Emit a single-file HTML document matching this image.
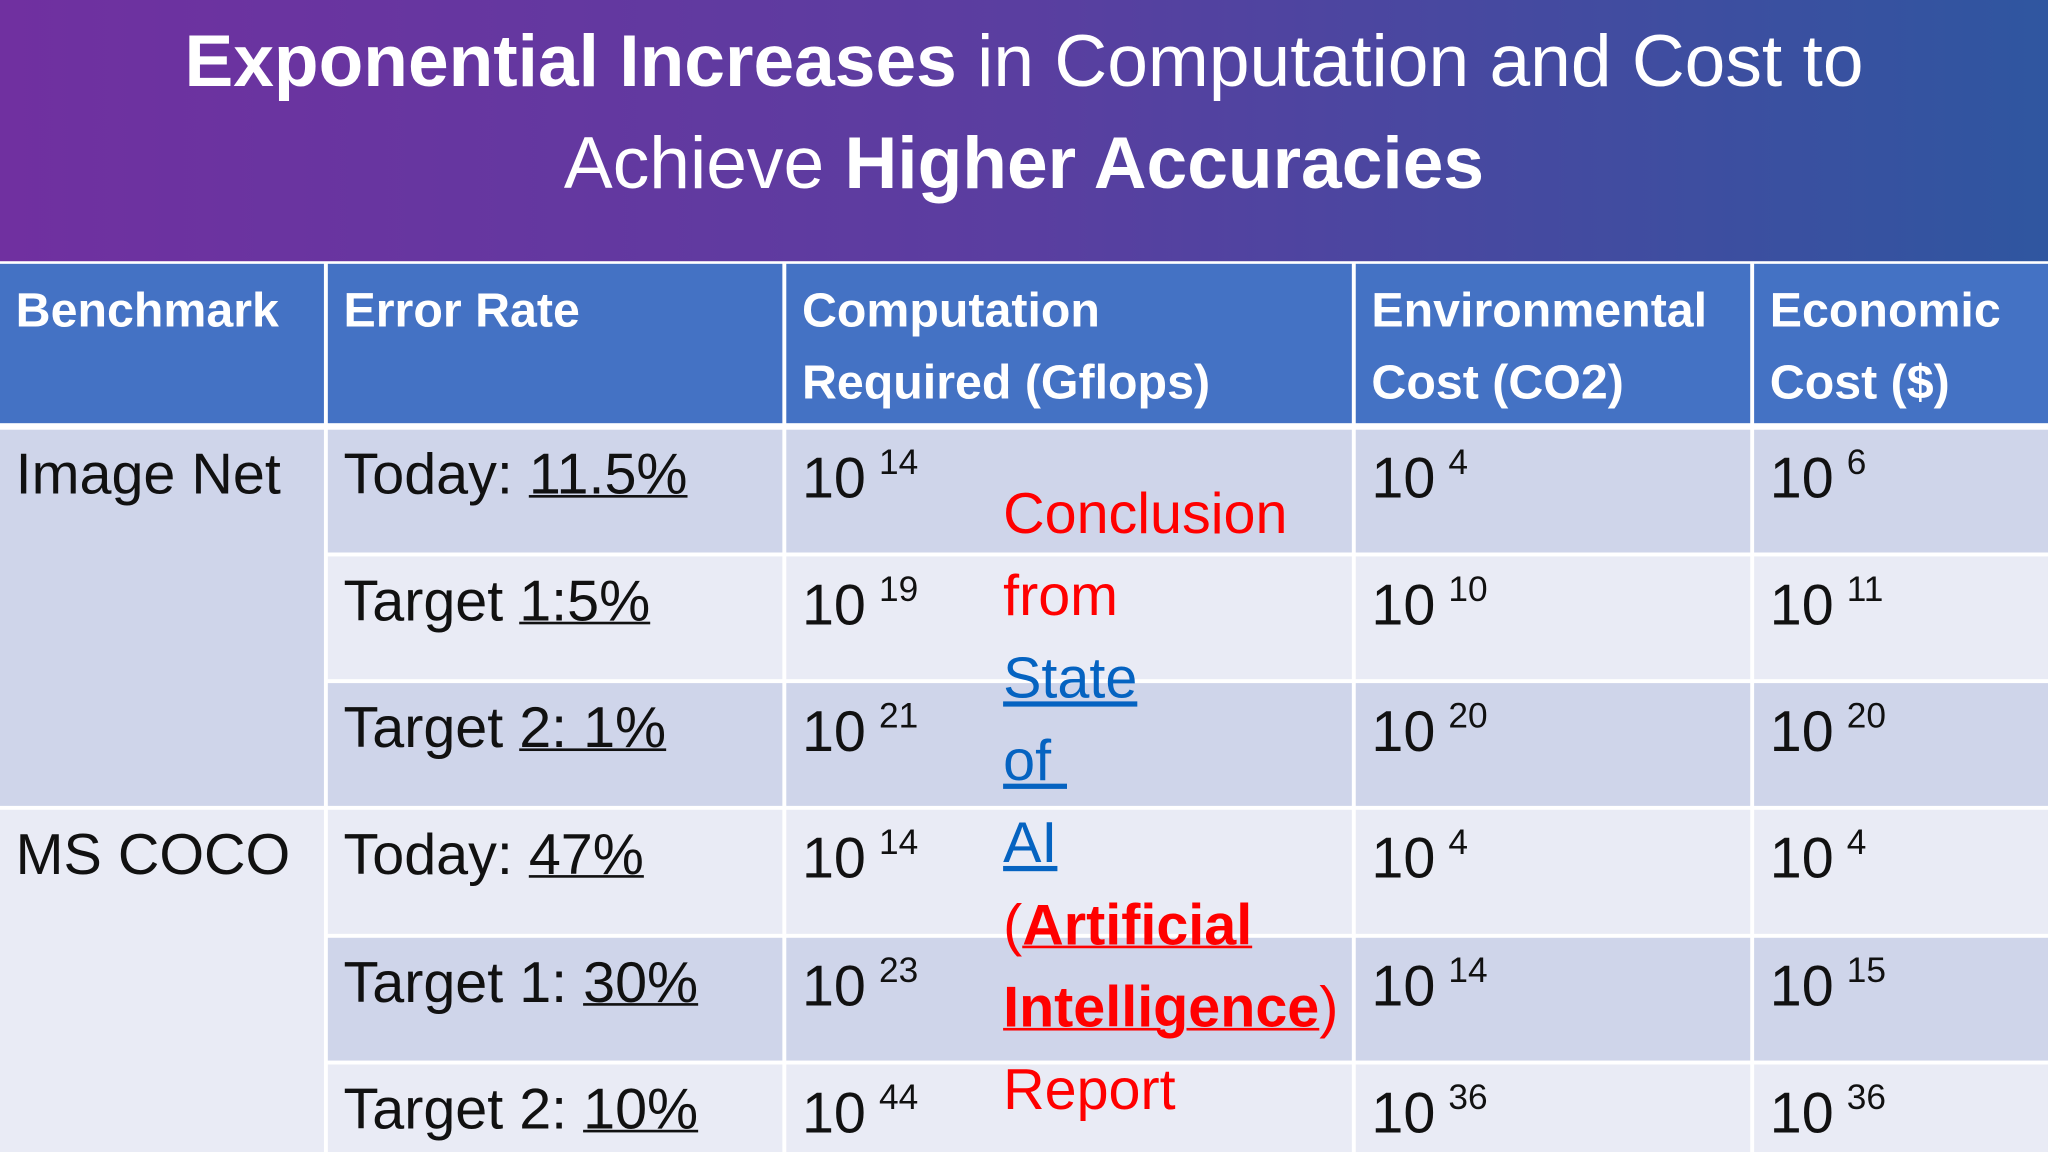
<!DOCTYPE html>
<html><head><meta charset="utf-8"><style>
html,body{margin:0;padding:0;width:2048px;height:1152px;overflow:hidden;background:#fff}
#s{position:absolute;left:0;top:0;width:1568px;height:882px;transform:scale(1.306122);transform-origin:0 0;font-family:"Liberation Sans",sans-serif}
.title{position:absolute;left:0;top:0;width:1568px;height:200px;background:linear-gradient(90deg,#7030a0 0%,#5a3ea0 50%,#2f56a0 100%);color:#fff;text-align:center;font-size:56px;line-height:78px;padding-top:8px;box-sizing:border-box}
.c{position:absolute;box-sizing:border-box;font-size:44px;color:#111;padding:10px 0 0 12px;white-space:nowrap}
.h{background:#4472c4;color:#fff;font-weight:bold;font-size:37px;line-height:55px;padding-top:8px}
.d{background:#cfd5ea}.l{background:#e9ebf5}
sup{font-size:27px;vertical-align:18px;margin-left:10px}
u{text-decoration-thickness:2px}
.cc{position:absolute;left:768px;font-size:44px;line-height:63px;top:362px;color:#f00;white-space:nowrap}
.cc a{color:#0563c1;text-decoration:underline}
</style></head><body>
<div id="s">
<div class="title"><b>Exponential Increases</b> in Computation and Cost to<br>Achieve <b>Higher Accuracies</b></div>

<div class="c h" style="left:0;top:202px;width:248px;height:122px">Benchmark</div>
<div class="c h" style="left:251px;top:202px;width:348px;height:122px">Error Rate</div>
<div class="c h" style="left:602px;top:202px;width:433px;height:122px">Computation<br>Required (Gflops)</div>
<div class="c h" style="left:1038px;top:202px;width:302px;height:122px">Environmental<br>Cost (CO2)</div>
<div class="c h" style="left:1343px;top:202px;width:225px;height:122px">Economic<br>Cost ($)</div>

<div class="c d" style="left:0;top:329px;width:248px;height:288px">Image Net</div>
<div class="c l" style="left:0;top:620px;width:248px;height:262px">MS COCO</div>

<div id="rows"></div>

<div class="cc">Conclusion<br>from<br><a>State<br>of&nbsp;<br>AI</a><br>(<b><u>Artificial<br>Intelligence</u></b>)<br>Report</div>
</div>
<script>
const errLabel=["Today: ","Target ","Target ","Today: ","Target 1: ","Target 2: "];
const errVal=["11.5%","1:5%","2: 1%","47%","30%","10%"];
const compExp=["14","19","21","14","23","44"];
const envExp=["4","10","20","4","14","36"];
const econExp=["6","11","20","4","15","36"];
const tops=[329,426,523,620,718,815],hs=[94,94,94,95,94,67];
const cls=["d","l","d","l","d","l"];
const rows=document.getElementById('rows');
for(let i=0;i<6;i++){
  const cols=[[251,348,errLabel[i]+'<u>'+errVal[i]+'</u>','error-rate'],[602,433,'10<sup>'+compExp[i]+'</sup>','computation'],[1038,302,'10<sup>'+envExp[i]+'</sup>','environmental-cost'],[1343,225,'10<sup>'+econExp[i]+'</sup>','economic-cost']];
  for(const c of cols){
    const el=document.createElement('div');
    el.className='c '+cls[i];
    el.style.cssText=`left:${c[0]}px;top:${tops[i]}px;width:${c[1]}px;height:${hs[i]}px`;
    el.innerHTML=c[2];
    
    
    rows.appendChild(el);
  }
}
</script>
</body></html>
